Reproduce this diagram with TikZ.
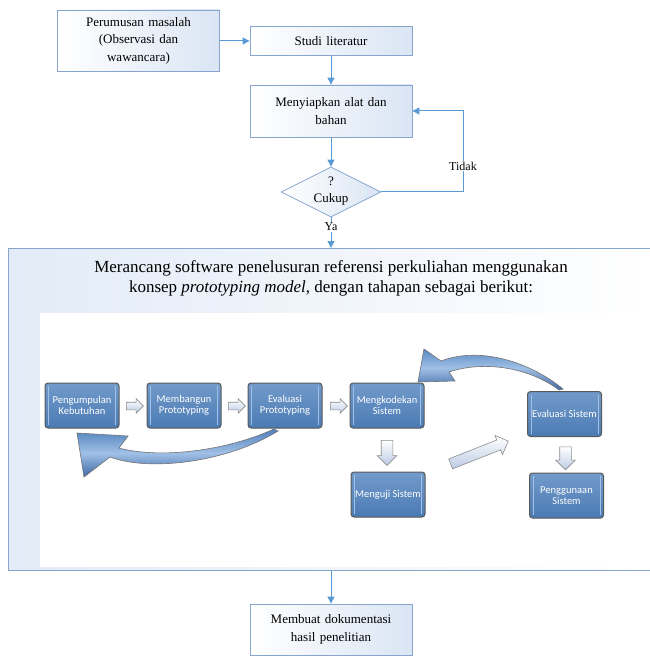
\documentclass[tikz,border=0pt]{standalone}
\usepackage{fontspec}
\setmainfont{Liberation Serif}
\newfontfamily\smartfont{Carlito}
\usetikzlibrary{shapes.geometric, shapes.arrows, arrows.meta}

\definecolor{garis}{RGB}{91,155,213}
\definecolor{tepi}{RGB}{135,165,205}
\definecolor{isi}{RGB}{218,229,244}
\definecolor{latar}{RGB}{226,235,247}
\definecolor{biru}{RGB}{79,129,189}
\definecolor{birutua}{RGB}{62,105,165}
\definecolor{birumuda}{RGB}{160,192,230}
\definecolor{panahisi}{RGB}{188,204,228}

\tikzset{
  kotak/.style={draw=tepi, line width=0.8pt, left color=white, right color=isi,
    minimum width=162pt, text width=156pt, align=center, inner sep=3pt,
    font=\fontsize{13}{17.5}\selectfont},
  keputusan/.style={diamond, draw=tepi, line width=0.8pt, left color=white, right color=isi,
    minimum width=100pt, minimum height=50pt, inner sep=0pt, aspect=2},
  flow/.style={draw=garis, line width=1pt, ->},
  label/.style={fill=white, inner sep=1pt, font=\fontsize{12}{14}\selectfont},
  tahap/.style={draw=black!65, line width=1pt, rounded corners=3pt,
    top color=biru!80!white, bottom color=biru!95!black, text=white,
    minimum width=74pt, minimum height=45pt, align=center, inner sep=1pt,
    font=\smartfont\fontsize{10.5}{11.5}\selectfont,
    path picture={
      \draw[birumuda, line width=0.9pt]
        ([xshift=3.5pt,yshift=-3pt]path picture bounding box.north west) --
        ([xshift=3.5pt,yshift=3pt]path picture bounding box.south west);
      \draw[birumuda, line width=0.9pt]
        ([xshift=-3.5pt,yshift=-3pt]path picture bounding box.north east) --
        ([xshift=-3.5pt,yshift=3pt]path picture bounding box.south east);}},
  panah/.style={single arrow, draw=black!45, line width=0.6pt,
    top color=white, bottom color=panahisi, inner xsep=0pt},
  lengkung/.style={draw=black!55, line width=0.6pt,
    top color=biru, bottom color=birutua, middle color=birumuda}
}

\begin{document}
\begin{tikzpicture}[x=1pt, y=-1pt, >={Triangle[length=7pt,width=7pt]}]
  \useasboundingbox (0,0) rectangle (649,660);

  % alur awal
  \node[kotak, minimum height=61pt] (rumusan) at (138.5,40.5)
    {Perumusan masalah\\(Observasi dan\\wawancara)};
  \node[kotak, minimum height=29pt] (studi) at (331,41) {Studi literatur};
  \node[kotak, minimum height=52pt] (siapkan) at (331,111) {Menyiapkan alat dan\\bahan};
  \node[keputusan] (cukup) at (331,192) {};
  \node[align=center, font=\fontsize{13}{17.5}\selectfont] (cukupteks) at (331,191) {?\\Cukup};

  \draw[flow] (rumusan.east |- studi.west) -- (studi.west);
  \draw[flow] (studi) -- (siapkan);
  \draw[flow] (siapkan) -- (cukup);
  \coordinate (balik) at (463,192);
  \draw[flow] (cukup.east) -- (balik) |- node[label, pos=0.16] {Tidak} (siapkan.east);

  % bingkai perancangan
  \node[draw=tepi, line width=0.8pt, left color=latar, right color=white,
    anchor=north west, minimum width=644pt, minimum height=322pt, inner sep=0pt]
    (rancang) at (8,248) {};
  \fill[white] (40,313) rectangle (651,567);
  \node[align=center, font=\fontsize{17}{20}\selectfont] (judul) at (331,278)
    {Merancang software penelusuran referensi perkuliahan menggunakan\\
     konsep \textit{prototyping model}, dengan tahapan sebagai berikut:};
  \draw[flow] (cukup.south) -- node[label, pos=0.3] {Ya} (cukup.south |- rancang.north);

  % tahapan prototyping
  \node[tahap] (kumpul) at (82,405.5) {Pengumpulan\\Kebutuhan};
  \node[tahap] (bangun) at (184,405.5) {Membangun\\Prototyping};
  \node[tahap] (evalproto) at (285,405.5) {Evaluasi\\Prototyping};
  \node[tahap] (kode) at (387,405.5) {Mengkodekan\\Sistem};
  \node[tahap] (uji) at (388,494.5) {Menguji Sistem};
  \node[tahap] (evalsis) at (564.5,414) {Evaluasi Sistem};
  \node[tahap] (guna) at (566.5,495.5) {Penggunaan\\Sistem};

  \node[panah, minimum height=17pt, inner ysep=3.5pt, single arrow head extend=3.5pt] (p1) at (133,406) {};
  \node[panah, minimum height=17pt, inner ysep=3.5pt, single arrow head extend=3.5pt] (p2) at (235,406) {};
  \node[panah, minimum height=17pt, inner ysep=3.5pt, single arrow head extend=3.5pt] (p3) at (337,406) {};
  \node[panah, rotate=-90, minimum height=25pt, inner ysep=5.5pt, single arrow head extend=4pt] (p4) at (387,450) {};
  \node[panah, rotate=-90, minimum height=23pt, inner ysep=5.5pt, single arrow head extend=4pt] (p5) at (565.5,455.5) {};
  \node[panah, rotate=21.6, minimum height=62pt, inner ysep=5pt, single arrow head extend=5pt] (p6) at (477,453.5) {};

  % panah umpan balik
  \draw[lengkung] (278,431) .. controls (228,462) and (150,472) .. (110,457)
    -- (84,477) -- (77,433) -- (128,436) -- (119,448)
    .. controls (160,459) and (226,451) .. (274,429) -- cycle;
  \draw[lengkung] (563,389) .. controls (530,362) and (480,346) .. (441,361)
    -- (424,349) -- (418,382) -- (455,381) -- (449,372)
    .. controls (485,360) and (530,368) .. (559,390) -- cycle;

  % dokumentasi
  \node[kotak, minimum height=51pt] (dokumentasi) at (331,629.5)
    {Membuat dokumentasi\\hasil penelitian};
  \draw[flow] (dokumentasi.north |- rancang.south) -- (dokumentasi.north);
\end{tikzpicture}
\end{document}
